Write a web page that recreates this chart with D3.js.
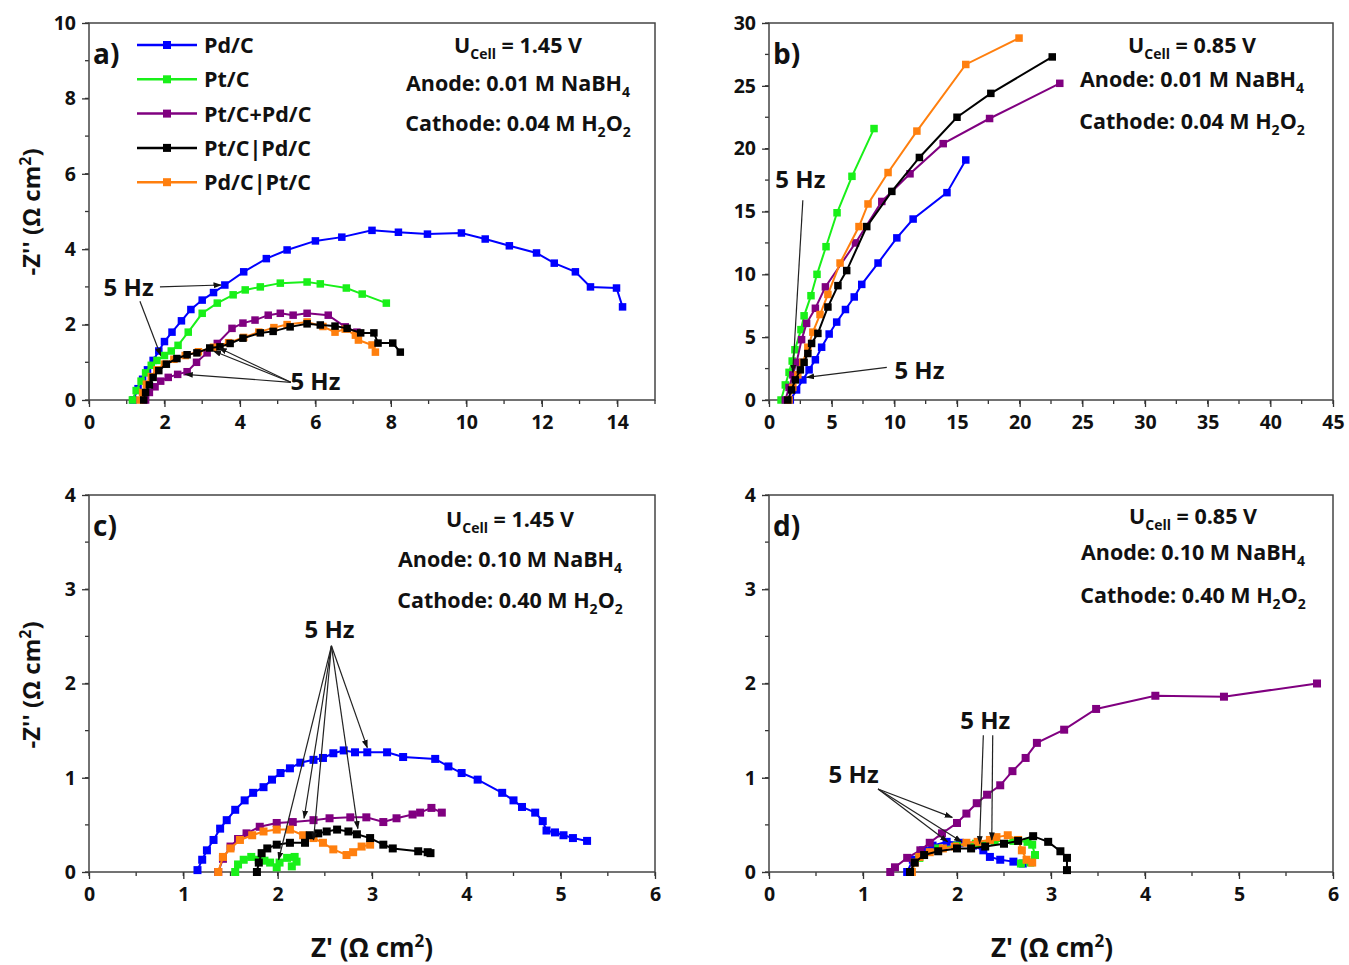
<!DOCTYPE html>
<html>
<head>
<meta charset="utf-8">
<script src="https://cdn.jsdelivr.net/npm/d3@7"></script>
<style>
  body { margin: 0; background: #fff; }
  svg text { font-family: "Open Sans", "DejaVu Sans", sans-serif; fill: #111; }
  .tick-label { font-size: 19px; font-weight: 700; }
  .note { font-size: 21.5px; font-weight: 700; }
  .panel-label { font-size: 28px; font-weight: 700; }
</style>
</head>
<body>
<div id="chart"></div>
<script>
var width = 1349;
var height = 965;

var seriesNames = ['Pd/C', 'Pt/C', 'Pt/C+Pd/C', 'Pt/C|Pd/C', 'Pd/C|Pt/C'];
var seriesColors = ['#0000ff', '#19f019', '#800080', '#000000', '#ff7f0e'];

// panel a: 1.45 V, 0.01 M
var aPdC = [[1.17,0],[1.3,0.3],[1.42,0.55],[1.55,0.8],[1.7,1.05],[1.85,1.3],[2.0,1.55],[2.2,1.8],[2.45,2.1],
  [2.7,2.4],[3.0,2.65],[3.3,2.85],[3.6,3.05],[4.1,3.4],[4.7,3.75],[5.25,3.98],[6.0,4.22],[6.7,4.32],[7.5,4.5],
  [8.2,4.45],[8.97,4.4],[9.87,4.43],[10.5,4.27],[11.14,4.09],[11.86,3.9],[12.33,3.63],[12.89,3.4],[13.29,3.0],
  [13.98,2.97],[14.14,2.47]];
var aPtC = [[1.15,0],[1.25,0.25],[1.38,0.5],[1.5,0.72],[1.65,0.92],[1.8,1.05],[2.0,1.18],[2.18,1.3],[2.36,1.45],
  [2.63,1.8],[3.0,2.3],[3.4,2.57],[3.82,2.79],[4.14,2.92],[4.54,3.0],[5.07,3.1],[5.78,3.13],[6.13,3.08],
  [6.82,2.97],[7.24,2.81],[7.88,2.57]];
var aPtCPdC = [[1.5,0],[1.6,0.2],[1.75,0.35],[1.9,0.5],[2.1,0.6],[2.35,0.68],[2.6,0.75],[2.85,1.0],[3.13,1.25],
  [3.4,1.5],[3.79,1.9],[4.08,2.04],[4.4,2.12],[4.75,2.25],[5.07,2.3],[5.41,2.25],[5.78,2.3],[6.34,2.25],
  [6.79,1.94],[7.1,1.8]];
var aPtCsPdC = [[1.45,0],[1.5,0.2],[1.6,0.4],[1.7,0.6],[1.85,0.78],[2.05,0.95],[2.33,1.1],[2.6,1.2],[2.86,1.25],
  [3.2,1.38],[3.47,1.41],[3.74,1.5],[4.08,1.64],[4.54,1.78],[4.88,1.82],[5.33,1.94],[5.78,2.02],[6.13,1.99],
  [6.52,1.96],[6.84,1.9],[7.2,1.78],[7.55,1.78],[7.66,1.51],[8.05,1.51],[8.25,1.27]];
var aPdCsPtC = [[1.35,0],[1.42,0.2],[1.52,0.42],[1.65,0.62],[1.8,0.8],[2.0,0.95],[2.25,1.08],[2.55,1.18],
  [2.9,1.28],[3.3,1.4],[3.7,1.52],[4.1,1.66],[4.5,1.8],[4.9,1.92],[5.25,2.0],[5.78,2.07],[6.2,1.95],[6.52,1.8],
  [6.79,1.88],[7.06,1.72],[7.14,1.59],[7.5,1.46],[7.59,1.27]];

// panel b: 0.85 V, 0.01 M
var bPdC = [[1.7,0],[2.2,0.8],[2.7,1.6],[3.2,2.4],[3.7,3.2],[4.2,4.2],[4.8,5.25],[5.4,6.2],[6.1,7.2],[6.8,8.2],
  [7.4,9.2],[8.7,10.9],[10.2,12.9],[11.5,14.4],[14.2,16.5],[15.7,19.1]];
var bPtC = [[0.96,0],[1.3,1.2],[1.6,2.2],[1.85,3.1],[2.07,4.0],[2.55,5.6],[2.8,6.7],[3.35,8.3],[3.83,10.0],
  [4.55,12.2],[5.43,14.9],[6.62,17.8],[8.38,21.6]];
var bPtCPdC = [[1.3,0],[1.6,1.0],[1.9,2.0],[2.2,3.0],[2.6,4.8],[3.0,6.1],[3.7,7.3],[4.5,9.0],[6.9,12.5],
  [9.0,15.8],[11.25,18.0],[13.9,20.4],[17.6,22.4],[23.2,25.2]];
var bPtCsPdC = [[1.5,0],[1.8,0.8],[2.1,1.6],[2.5,2.4],[2.8,3.0],[3.1,3.7],[3.4,4.5],[3.9,5.3],[4.7,7.4],
  [5.5,9.1],[6.2,10.3],[7.8,13.8],[9.8,16.6],[12.0,19.3],[15.0,22.5],[17.7,24.4],[22.6,27.3]];
var bPdCsPtC = [[1.6,0],[1.9,1.0],[2.3,2.0],[2.7,3.0],[3.1,4.2],[3.5,5.4],[4.07,6.8],[4.7,8.4],[5.67,10.9],
  [7.18,13.8],[7.9,15.6],[9.5,18.1],[11.8,21.4],[15.7,26.7],[19.95,28.8]];

// panel c: 1.45 V, 0.10 M
var cPdC = [[1.15,0.02],[1.2,0.13],[1.25,0.23],[1.32,0.34],[1.39,0.46],[1.46,0.55],[1.55,0.66],[1.65,0.76],
  [1.74,0.84],[1.85,0.9],[1.94,0.98],[2.03,1.05],[2.13,1.1],[2.24,1.16],[2.38,1.19],[2.48,1.21],[2.59,1.26],
  [2.7,1.29],[2.82,1.27],[2.95,1.27],[3.16,1.27],[3.33,1.22],[3.67,1.2],[3.81,1.12],[3.95,1.05],[4.12,0.98],
  [4.38,0.84],[4.5,0.76],[4.59,0.69],[4.73,0.63],[4.81,0.54],[4.85,0.44],[4.94,0.42],[5.03,0.39],[5.13,0.36],
  [5.28,0.33]];
var cPtC = [[1.55,0],[1.58,0.08],[1.64,0.13],[1.72,0.16],[1.8,0.13],[1.86,0.12],[1.92,0.1],[1.99,0.05],
  [2.02,0.1],[2.1,0.15],[2.18,0.16],[2.2,0.11],[2.15,0.06]];
var cPtCPdC = [[1.37,0],[1.42,0.14],[1.5,0.27],[1.58,0.35],[1.67,0.41],[1.81,0.48],[1.99,0.52],[2.16,0.53],
  [2.38,0.55],[2.55,0.57],[2.77,0.58],[2.94,0.58],[3.12,0.53],[3.26,0.57],[3.43,0.61],[3.51,0.63],[3.63,0.68],
  [3.74,0.63]];
var cPtCsPdC = [[1.78,0],[1.8,0.1],[1.83,0.2],[1.89,0.25],[1.99,0.29],[2.13,0.31],[2.29,0.31],[2.34,0.39],
  [2.43,0.41],[2.52,0.43],[2.63,0.45],[2.75,0.43],[2.84,0.4],[2.98,0.36],[3.12,0.29],[3.22,0.25],[3.49,0.22],
  [3.59,0.21],[3.62,0.2]];
var cPdCsPtC = [[1.37,0],[1.42,0.16],[1.5,0.25],[1.6,0.34],[1.73,0.39],[1.85,0.43],[1.99,0.45],[2.13,0.45],
  [2.27,0.39],[2.38,0.36],[2.48,0.31],[2.59,0.24],[2.73,0.18],[2.8,0.21],[2.89,0.27],[2.98,0.29]];

// panel d: 0.85 V, 0.10 M
var dPdC = [[1.47,0],[1.53,0.13],[1.64,0.23],[1.74,0.28],[1.89,0.32],[2.03,0.31],[2.17,0.28],[2.28,0.23],
  [2.35,0.16],[2.46,0.13],[2.6,0.11],[2.7,0.09]];
var dPtC = [[1.5,0],[1.6,0.15],[1.8,0.25],[2.0,0.28],[2.2,0.3],[2.4,0.33],[2.6,0.33],[2.75,0.32],[2.8,0.29],
  [2.83,0.18],[2.78,0.1],[2.68,0.09]];
var dPtCPdC = [[1.29,0],[1.34,0.05],[1.47,0.15],[1.61,0.23],[1.71,0.31],[1.84,0.41],[2.0,0.52],[2.1,0.62],
  [2.21,0.73],[2.32,0.82],[2.46,0.92],[2.59,1.07],[2.73,1.21],[2.85,1.37],[3.14,1.51],[3.48,1.73],[4.11,1.87],
  [4.84,1.86],[5.83,2.0]];
var dPtCsPdC = [[1.5,0],[1.55,0.1],[1.65,0.18],[1.8,0.22],[2.0,0.25],[2.15,0.25],[2.3,0.27],[2.5,0.3],
  [2.65,0.33],[2.81,0.38],[2.97,0.32],[3.1,0.22],[3.17,0.15],[3.17,0.02]];
var dPdCsPtC = [[1.52,0],[1.55,0.1],[1.6,0.16],[1.71,0.21],[1.85,0.25],[1.98,0.27],[2.1,0.31],[2.22,0.32],
  [2.35,0.34],[2.42,0.37],[2.54,0.39],[2.65,0.34],[2.69,0.23],[2.74,0.13],[2.8,0.1]];

// conditions text
var notesA = ['1.45', '0.01', '0.04'];
var notesB = ['0.85', '0.01', '0.04'];
var notesC = ['1.45', '0.10', '0.40'];
var notesD = ['0.85', '0.10', '0.40'];

// 5 Hz annotation arrows [from, to] in data units
var arrowsA = [[[1.88,3.0],[3.5,3.05]], [[1.35,2.62],[1.9,1.18]], [[5.35,0.47],[2.55,0.68]],
  [[5.35,0.47],[3.3,1.3]], [[5.35,0.47],[3.45,1.38]]];
var arrowsB = [[[2.7,15.9],[1.9,2.2]], [[9.4,2.6],[3.0,1.8]]];
var arrowsC = [[[2.57,2.4],[2.95,1.32]], [[2.57,2.4],[2.28,0.57]], [[2.57,2.4],[2.38,0.34]],
  [[2.57,2.4],[2.85,0.46]], [[2.57,2.4],[2.01,0.13]]];
var arrowsD = [[[1.16,0.88],[1.95,0.58]], [[1.16,0.88],[1.9,0.32]], [[1.16,0.88],[2.05,0.32]],
  [[2.28,1.45],[2.24,0.3]], [[2.38,1.45],[2.37,0.34]]];

var svg = d3.select('#chart').append('svg')
  .attr('width', width)
  .attr('height', height);

var defs = svg.append('defs');
defs.append('marker')
  .attr('id', 'arrow')
  .attr('viewBox', '0 0 10 10')
  .attr('refX', 9).attr('refY', 5)
  .attr('markerWidth', 7).attr('markerHeight', 7)
  .attr('orient', 'auto')
  .append('path')
  .attr('d', 'M0,1.5 L10,5 L0,8.5 Z')
  .attr('fill', '#111');

function drawPanel(p) {
  var x = d3.scaleLinear().domain(p.xDomain).range([p.left, p.right]);
  var y = d3.scaleLinear().domain(p.yDomain).range([p.bottom, p.top]);
  var g = svg.append('g');

  // minor ticks
  var xMinor = d3.range(p.xDomain[0], p.xDomain[1] + 1e-9, p.xMinor);
  var yMinor = d3.range(p.yDomain[0], p.yDomain[1] + 1e-9, p.yMinor);
  g.selectAll('.xminor').data(xMinor).enter().append('line')
    .attr('x1', function(d) { return x(d); }).attr('x2', function(d) { return x(d); })
    .attr('y1', p.bottom).attr('y2', p.bottom + 4)
    .attr('stroke', '#333').attr('stroke-width', 1.3);
  g.selectAll('.yminor').data(yMinor).enter().append('line')
    .attr('y1', function(d) { return y(d); }).attr('y2', function(d) { return y(d); })
    .attr('x1', p.left).attr('x2', p.left - 4)
    .attr('stroke', '#333').attr('stroke-width', 1.3);

  var xAxis = g.append('g')
    .attr('transform', 'translate(0,' + p.bottom + ')')
    .call(d3.axisBottom(x).tickValues(p.xTicks).tickSize(7).tickPadding(8).tickFormat(d3.format('d')));
  var yAxis = g.append('g')
    .attr('transform', 'translate(' + p.left + ',0)')
    .call(d3.axisLeft(y).tickValues(p.yTicks).tickSize(7).tickPadding(6).tickFormat(d3.format('d')));
  [xAxis, yAxis].forEach(function(a) {
    a.select('.domain').remove();
    a.selectAll('.tick line').attr('stroke', '#333').attr('stroke-width', 1.3);
    a.selectAll('.tick text').attr('class', 'tick-label').attr('fill', '#111')
      .style('font-size', '19.5px').style('font-weight', 700)
      .style('font-family', '"Open Sans", sans-serif');
  });

  // frame
  g.append('rect')
    .attr('x', p.left).attr('y', p.top)
    .attr('width', p.right - p.left).attr('height', p.bottom - p.top)
    .attr('fill', 'none').attr('stroke', '#444').attr('stroke-width', 1.5);

  var line = d3.line()
    .x(function(d) { return x(d[0]); })
    .y(function(d) { return y(d[1]); });

  var order = [0, 1, 2, 4, 3];
  order.forEach(function(i) {
    var s = p.series[i];
    var sg = g.append('g');
    sg.append('path')
      .datum(s)
      .attr('d', line)
      .attr('fill', 'none')
      .attr('stroke', seriesColors[i])
      .attr('stroke-width', 2);
    sg.selectAll('rect').data(s).enter().append('rect')
      .attr('x', function(d) { return x(d[0]) - p.marker / 2; })
      .attr('y', function(d) { return y(d[1]) - p.marker / 2; })
      .attr('width', p.marker).attr('height', p.marker)
      .attr('fill', seriesColors[i]);
  });

  // arrows
  g.selectAll('.arrow').data(p.arrows).enter().append('line')
    .attr('x1', function(d) { return x(d[0][0]); })
    .attr('y1', function(d) { return y(d[0][1]); })
    .attr('x2', function(d) { return x(d[1][0]); })
    .attr('y2', function(d) { return y(d[1][1]); })
    .attr('stroke', '#222').attr('stroke-width', 1.2)
    .attr('marker-end', 'url(#arrow)');

  p.hzLabels.forEach(function(h) {
    g.append('text').attr('class', 'note')
      .attr('x', x(h[0])).attr('y', y(h[1]))
      .attr('text-anchor', 'middle')
      .style('font-size', '24px')
      .text('5 Hz');
  });

  // panel label
  g.append('text').attr('class', 'panel-label')
    .attr('x', p.left + 4).attr('y', p.top + 41)
    .text(p.label);

  // conditions
  var cx = p.noteX;
  var t1 = g.append('text').attr('class', 'note').attr('x', cx).attr('y', p.noteY[0]).attr('text-anchor', 'middle');
  t1.append('tspan').text('U');
  t1.append('tspan').attr('dy', 6).style('font-size', '14px').text('Cell');
  t1.append('tspan').attr('dy', -6).text(' = ' + p.notes[0] + ' V');
  var t2 = g.append('text').attr('class', 'note').attr('x', cx).attr('y', p.noteY[1]).attr('text-anchor', 'middle');
  t2.append('tspan').text('Anode: ' + p.notes[1] + ' M NaBH');
  t2.append('tspan').attr('dy', 6).style('font-size', '14px').text('4');
  var t3 = g.append('text').attr('class', 'note').attr('x', cx).attr('y', p.noteY[2]).attr('text-anchor', 'middle');
  t3.append('tspan').text('Cathode: ' + p.notes[2] + ' M H');
  t3.append('tspan').attr('dy', 6).style('font-size', '14px').text('2');
  t3.append('tspan').attr('dy', -6).text('O');
  t3.append('tspan').attr('dy', 6).style('font-size', '14px').text('2');

  return g;
}

var panels = [
  { label: 'a)', left: 89, right: 655, top: 23, bottom: 400, xDomain: [0, 15], yDomain: [0, 10],
    xTicks: d3.range(0, 15, 2), yTicks: d3.range(0, 11, 2), xMinor: 1, yMinor: 1, marker: 7.5,
    series: [aPdC, aPtC, aPtCPdC, aPtCsPdC, aPdCsPtC], arrows: arrowsA, hzLabels: [[1.05, 2.75], [6.0, 0.27]],
    notes: notesA, noteX: 518, noteY: [53, 91, 131] },
  { label: 'b)', left: 769, right: 1333, top: 23, bottom: 400, xDomain: [0, 45], yDomain: [0, 30],
    xTicks: d3.range(0, 46, 5), yTicks: d3.range(0, 31, 5), xMinor: 2.5, yMinor: 2.5, marker: 7.5,
    series: [bPdC, bPtC, bPtCPdC, bPtCsPdC, bPdCsPtC], arrows: arrowsB, hzLabels: [[2.5, 16.9], [12.0, 1.7]],
    notes: notesB, noteX: 1192, noteY: [53, 87, 129] },
  { label: 'c)', left: 89, right: 655, top: 495, bottom: 872, xDomain: [0, 6], yDomain: [0, 4],
    xTicks: d3.range(0, 7, 1), yTicks: d3.range(0, 5, 1), xMinor: 0.5, yMinor: 0.5, marker: 8,
    series: [cPdC, cPtC, cPtCPdC, cPtCsPdC, cPdCsPtC], arrows: arrowsC, hzLabels: [[2.55, 2.48]],
    notes: notesC, noteX: 510, noteY: [527, 567, 608] },
  { label: 'd)', left: 769, right: 1333, top: 495, bottom: 872, xDomain: [0, 6], yDomain: [0, 4],
    xTicks: d3.range(0, 7, 1), yTicks: d3.range(0, 5, 1), xMinor: 0.5, yMinor: 0.5, marker: 8,
    series: [dPdC, dPtC, dPtCPdC, dPtCsPdC, dPdCsPtC], arrows: arrowsD, hzLabels: [[0.9, 0.94], [2.3, 1.52]],
    notes: notesD, noteX: 1193, noteY: [524, 560, 603] }
];

panels.forEach(drawPanel);

// legend in panel a
var legend = svg.append('g');
seriesNames.forEach(function(name, i) {
  var ly = 45 + i * 34.3;
  legend.append('line').attr('x1', 137).attr('x2', 197).attr('y1', ly).attr('y2', ly)
    .attr('stroke', seriesColors[i]).attr('stroke-width', 2.5);
  legend.append('rect').attr('x', 163).attr('y', ly - 4).attr('width', 8).attr('height', 8)
    .attr('fill', seriesColors[i]);
  legend.append('text').attr('class', 'note').attr('x', 204).attr('y', ly + 8).text(name);
});

// axis titles
function yTitle(cy) {
  var t = svg.append('text').attr('class', 'note')
    .attr('transform', 'translate(40,' + cy + ') rotate(-90)')
    .attr('text-anchor', 'middle').style('font-size', '24px');
  t.append('tspan').text("-Z'' (\u03A9 cm");
  t.append('tspan').attr('dy', -9).style('font-size', '16px').text('2');
  t.append('tspan').attr('dy', 9).text(')');
}
function xTitle(cx) {
  var t = svg.append('text').attr('class', 'note')
    .attr('x', cx).attr('y', 957)
    .attr('text-anchor', 'middle').style('font-size', '26px');
  t.append('tspan').text("Z' (\u03A9 cm");
  t.append('tspan').attr('dy', -10).style('font-size', '17px').text('2');
  t.append('tspan').attr('dy', 10).text(')');
}
yTitle(212);
yTitle(685);
xTitle(372);
xTitle(1052);
</script>
</body>
</html>
